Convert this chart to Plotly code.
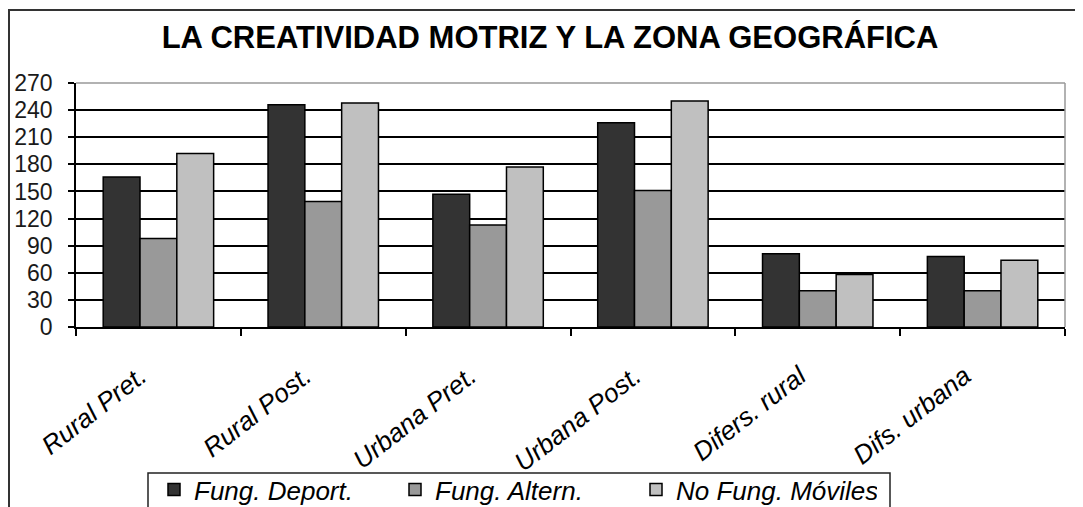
import plotly.graph_objects as go

categories = ["Rural Pret.", "Rural Post.", "Urbana Pret.", "Urbana Post.", "Difers. rural", "Difs. urbana"]
series_names = ["Fung. Deport.", "Fung. Altern.", "No Fung. Móviles"]
fung_deport = [166, 246, 147, 226, 81, 78]
fung_altern = [98, 139, 113, 151, 40, 40]
no_fung_moviles = [192, 248, 177, 250, 58, 74]
y_ticks = [0, 30, 60, 90, 120, 150, 180, 210, 240, 270]
title_text = "LA CREATIVIDAD MOTRIZ Y LA ZONA GEOGRÁFICA"

colors = ["#333333", "#999999", "#c0c0c0"]
FONT = "Liberation Sans, Arial, sans-serif"

fig = go.Figure()
for name, vals, col in zip(series_names, [fung_deport, fung_altern, no_fung_moviles], colors):
    fig.add_trace(go.Bar(
        x=categories, y=vals, name=name,
        marker=dict(color=col, line=dict(color="black", width=1.5)),
    ))

# page offset (browser body margin)
OFF = 8
W, H = 1083, 507
# desired plot area in page pixels: x 76..1065, y 83..327
L = 76 - OFF
T = 83 - OFF
R = W - (1065 - OFF)
B = H - (327 - OFF)
pw = W - L - R
ph = H - T - B

def px_x(x):
    return (x - OFF - L) / pw

def px_y(y):
    return (H - B - (y - OFF)) / ph

fig.update_layout(
    width=W, height=H,
    margin=dict(l=L, r=R, t=T, b=B, pad=0, autoexpand=False),
    paper_bgcolor="white", plot_bgcolor="white",
    font=dict(family=FONT, color="black"),
    barmode="group", bargap=0.33, bargroupgap=0,
    title=dict(text=title_text, x=(550 - OFF) / W, xanchor="center", y=1 - (37 - OFF) / H, yanchor="middle",
               xref="container", yref="container",
               font=dict(family=FONT, size=31, color="black", weight="bold")),
    showlegend=True,
    legend=dict(
        orientation="h", x=px_x(154), xanchor="left", y=px_y(466), yanchor="top",
        borderwidth=0, bgcolor="rgba(0,0,0,0)",
        font=dict(family=FONT, size=26, color="black", style="italic"),
        entrywidth=196, entrywidthmode="pixels", traceorder="normal",
    ),
    xaxis=dict(
        type="category", showgrid=False, showline=True, linecolor="black", linewidth=1.5,
        ticks="outside", ticklen=7, tickwidth=1.5, tickcolor="black", tickson="boundaries",
        tickangle=-38, tickfont=dict(family=FONT, size=26, color="black", style="italic"),
        ticklabelstandoff=22, ticklabelshift=-18, automargin=False,
    ),
    yaxis=dict(
        range=[0, 270], tickvals=y_ticks, ticktext=[str(v) for v in y_ticks],
        showgrid=True, gridcolor="black", gridwidth=1.5,
        showline=True, linecolor="black", linewidth=1.5,
        ticks="outside", ticklen=6, tickwidth=1.5, tickcolor="black",
        tickfont=dict(family=FONT, size=23, color="#1a1a1a"),
        ticklabelstandoff=11, zeroline=False, automargin=False,
    ),
    shapes=[
        # plot area border (top and right, gray)
        dict(type="line", xref="paper", yref="paper", x0=0, x1=1, y0=1, y1=1,
             line=dict(color="#999999", width=1.5), layer="above"),
        dict(type="line", xref="paper", yref="paper", x0=1, x1=1, y0=0, y1=1,
             line=dict(color="#999999", width=1.5), layer="above"),
        # outer chart frame
        dict(type="rect", xref="paper", yref="paper",
             x0=px_x(9), x1=px_x(1100), y0=px_y(10), y1=px_y(530),
             line=dict(color="#333333", width=2), layer="below"),
        # legend box
        dict(type="rect", xref="paper", yref="paper",
             x0=px_x(148), x1=px_x(890), y0=px_y(473), y1=px_y(530),
             line=dict(color="#222222", width=1.5), fillcolor="white", layer="below"),
    ],
)

fig.write_html("out.html")
